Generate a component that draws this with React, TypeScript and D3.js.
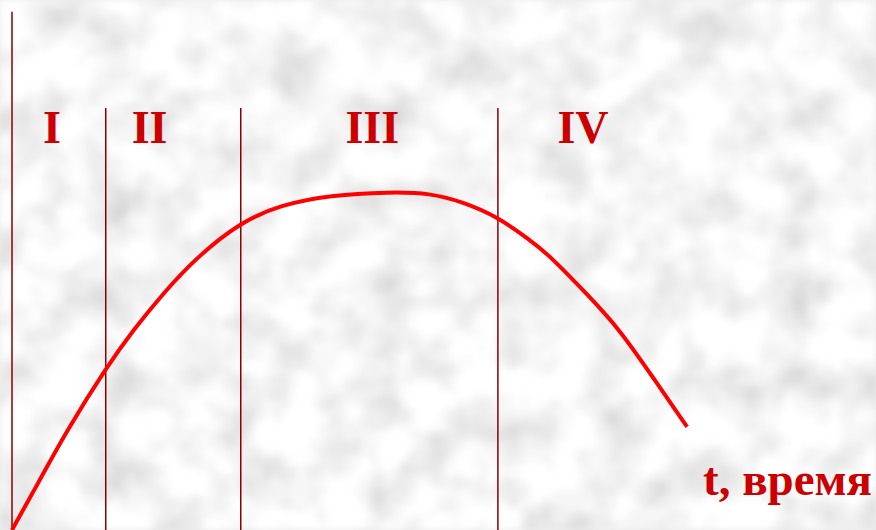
import React from 'react';
import * as d3 from 'd3';

const width = 876;
const height = 530;

// life cycle curve: time (0..100) vs sales (0..100)
const curveTime = [0, 2.4, 6.4, 11.0, 14.1, 17.6, 21.5, 26.6, 31.2, 37.0, 44.0, 48.6, 52.4, 56.5, 60.2, 62.2, 67.2, 70.7, 74.5, 78.5];
const curveSales = [0, 10.9, 29.4, 47.9, 58.8, 69.7, 80.3, 90.6, 95.6, 98.5, 99.4, 99.1, 96.5, 92.1, 85.3, 81.5, 68.5, 58.8, 45.0, 30.3];

// stage boundaries and the stage names
const stageBounds = [0, 10.9, 26.6, 56.5];
const stageTops = [152.4, 124.1, 124.1, 124.1];
const stageLabels = ['I', 'II', 'III', 'IV'];
const stageLabelTime = [4.65, 16.0, 41.9, 66.4];

const axisLabel = 't, время';

const xScale = d3.scaleLinear().domain([0, 100]).range([12, 872]);
const yScale = d3.scaleLinear().domain([0, 100]).range([530, 190]);

const lineGen = d3
  .line<number>()
  .x((d, i) => xScale(curveTime[i]))
  .y(d => yScale(d))
  .curve(d3.curveBasis);

export default function App() {
  const labelY = yScale(113.8);
  return (
    <svg
      width={width}
      height={height}
      style={{ position: 'absolute', left: 0, top: 0 }}
      fontFamily='"Liberation Serif", "Times New Roman", serif'
    >
      <defs>
        <filter id="paper" x="0" y="0" width="100%" height="100%">
          <feTurbulence type="fractalNoise" baseFrequency="0.022" numOctaves="3" seed="11" result="noise" />
          <feColorMatrix
            in="noise"
            type="matrix"
            values="0.6 0 0 0 0.62  0.6 0 0 0 0.62  0.6 0 0 0 0.62  0 0 0 0 1"
            result="gray"
          />
          <feGaussianBlur in="gray" stdDeviation="3" />
        </filter>
      </defs>
      <rect x={0} y={0} width={width} height={height} fill="#ececec" />
      <rect x={0} y={0} width={width} height={height} filter="url(#paper)" />

      {/* stage boundaries */}
      {stageBounds.map((t, i) => (
        <line
          key={i}
          x1={xScale(t)}
          x2={xScale(t)}
          y1={yScale(stageTops[i])}
          y2={height}
          stroke="#8b0000"
          strokeWidth={1.5}
        />
      ))}

      {/* stage names */}
      {stageLabels.map((s, i) => (
        <text
          key={s}
          x={xScale(stageLabelTime[i])}
          y={labelY}
          textAnchor="middle"
          fontSize={46}
          fontWeight="bold"
          fill="#cc0000"
        >
          {s}
        </text>
      ))}

      {/* curve */}
      <path d={lineGen(curveSales) || ''} fill="none" stroke="#ff0000" strokeWidth={4} />

      <text x={872} y={495} textAnchor="end" fontSize={47} fontWeight="bold" fill="#cc0000">
        {axisLabel}
      </text>
    </svg>
  );
}
